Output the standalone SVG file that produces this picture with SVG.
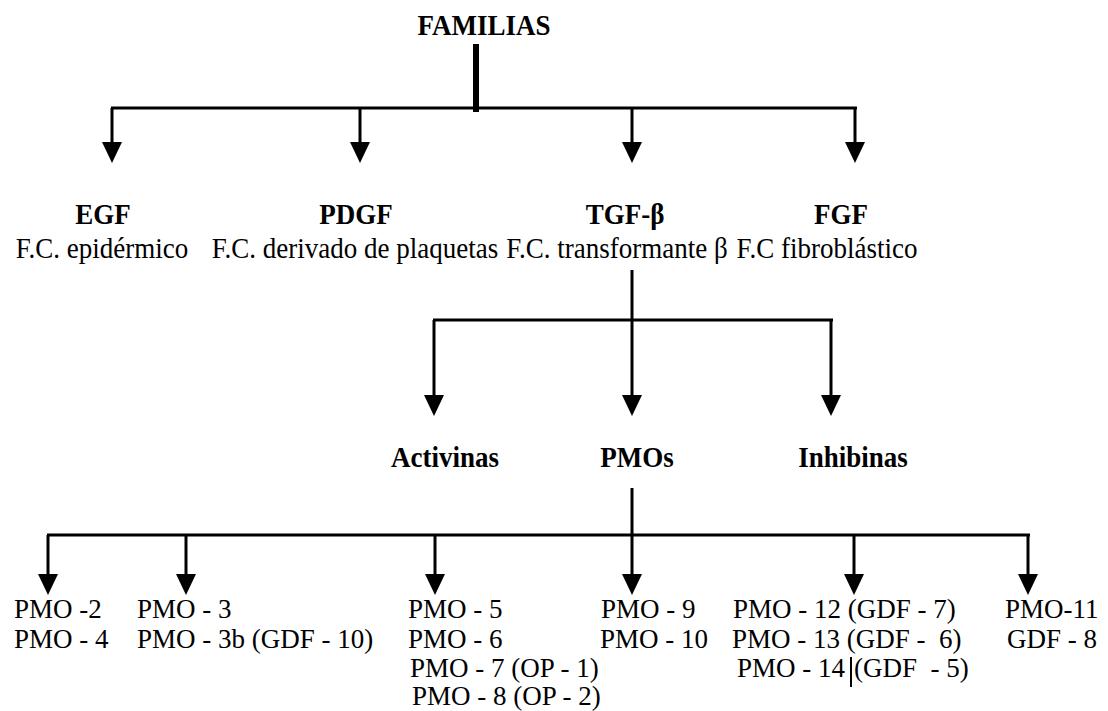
<svg xmlns="http://www.w3.org/2000/svg" width="1108" height="711" viewBox="0 0 1108 711">
  <style>
    text { font-family: "Liberation Serif", "Times New Roman", serif; fill: #000; white-space: pre; }
    .h { font-size: 27px; font-weight: bold; text-anchor: middle; }
    .d { font-size: 27px; text-anchor: middle; }
    .b { font-size: 27px; }
    .ln { stroke: #000; stroke-width: 3; fill: none; }
    .arr { stroke: #000; stroke-width: 3; fill: none; marker-end: url(#ah); }
  </style>
  <defs>
    <marker id="ah" markerUnits="userSpaceOnUse" markerWidth="21" markerHeight="20" viewBox="0 0 21 20" refX="16" refY="10" orient="auto">
      <path d="M0,0 L21,10 L0,20 z" fill="#000"/>
    </marker>
  </defs>
  <rect width="1108" height="711" fill="#fff"/>

  <g id="connectors">
    <line x1="476" y1="44" x2="476" y2="112" stroke="#000" stroke-width="6"/>
    <line class="ln" x1="111" y1="108" x2="857" y2="108"/>
    <line class="arr" x1="112" y1="108" x2="112" y2="158"/>
    <line class="arr" x1="360" y1="108" x2="360" y2="158"/>
    <line class="arr" x1="632" y1="108" x2="632" y2="158"/>
    <line class="arr" x1="855" y1="108" x2="855" y2="158"/>

    <line class="ln" x1="632" y1="270" x2="632" y2="320"/>
    <line class="ln" x1="433" y1="320" x2="833" y2="320"/>
    <line class="arr" x1="434" y1="320" x2="434" y2="411"/>
    <line class="arr" x1="632" y1="320" x2="632" y2="411"/>
    <line class="arr" x1="831" y1="320" x2="831" y2="411"/>

    <line class="ln" x1="632" y1="488" x2="632" y2="535"/>
    <line class="ln" x1="47" y1="535" x2="1030" y2="535"/>
    <line class="arr" x1="48" y1="535" x2="48" y2="590"/>
    <line class="arr" x1="186" y1="535" x2="186" y2="590"/>
    <line class="arr" x1="435" y1="535" x2="435" y2="590"/>
    <line class="arr" x1="632" y1="535" x2="632" y2="590"/>
    <line class="arr" x1="854" y1="535" x2="854" y2="590"/>
    <line class="arr" x1="1028" y1="535" x2="1028" y2="590"/>
  </g>

  <g id="familias"><text class="h" transform="translate(484,35) scale(1,1.1)">FAMILIAS</text></g>

  <g id="egf">
    <text class="h" transform="translate(103,224) scale(1,1.1)">EGF</text>
    <text class="d" transform="translate(102,258) scale(1,1.1)">F.C. epidérmico</text>
  </g>
  <g id="pdgf">
    <text class="h" transform="translate(356,224) scale(1,1.1)">PDGF</text>
    <text class="d" transform="translate(355,258) scale(1,1.1)">F.C. derivado de plaquetas</text>
  </g>
  <g id="tgfb">
    <text class="h" transform="translate(625,224) scale(1,1.1)">TGF-β</text>
    <text class="d" transform="translate(617,258) scale(1,1.1)">F.C. transformante β</text>
  </g>
  <g id="fgf">
    <text class="h" transform="translate(841,224) scale(1,1.1)">FGF</text>
    <text class="d" transform="translate(827,258) scale(1,1.1)">F.C fibroblástico</text>
  </g>

  <g id="activinas"><text class="h" transform="translate(445,467) scale(1,1.1)">Activinas</text></g>
  <g id="pmos"><text class="h" transform="translate(637,467) scale(1,1.1)">PMOs</text></g>
  <g id="inhibinas"><text class="h" transform="translate(853,467) scale(1,1.1)">Inhibinas</text></g>

  <g id="pmo2-4">
    <text class="b" x="14" y="618">PMO -2</text>
    <text class="b" x="14" y="648">PMO - 4</text>
  </g>
  <g id="pmo3">
    <text class="b" x="137" y="618">PMO - 3</text>
    <text class="b" x="137" y="648">PMO - 3b (GDF - 10)</text>
  </g>
  <g id="pmo5-8">
    <text class="b" x="408" y="618">PMO - 5</text>
    <text class="b" x="408" y="648">PMO - 6</text>
    <text class="b" x="410" y="677">PMO - 7 (OP - 1)</text>
    <text class="b" x="412" y="705">PMO - 8 (OP - 2)</text>
  </g>
  <g id="pmo9-10">
    <text class="b" x="601" y="618">PMO - 9</text>
    <text class="b" x="600" y="648">PMO - 10</text>
  </g>
  <g id="pmo12-14">
    <text class="b" x="733" y="618">PMO - 12 (GDF - 7)</text>
    <text class="b" x="732" y="648">PMO - 13 (GDF -  6)</text>
    <text class="b" x="737" y="677">PMO - 14 </text>
    <line x1="851" y1="657" x2="851" y2="687" stroke="#000" stroke-width="2"/>
    <text class="b" x="854" y="677">(GDF  - 5)</text>
  </g>
  <g id="pmo11">
    <text class="b" x="1005" y="618">PMO-11</text>
    <text class="b" x="1007" y="648">GDF - 8</text>
  </g>
</svg>
